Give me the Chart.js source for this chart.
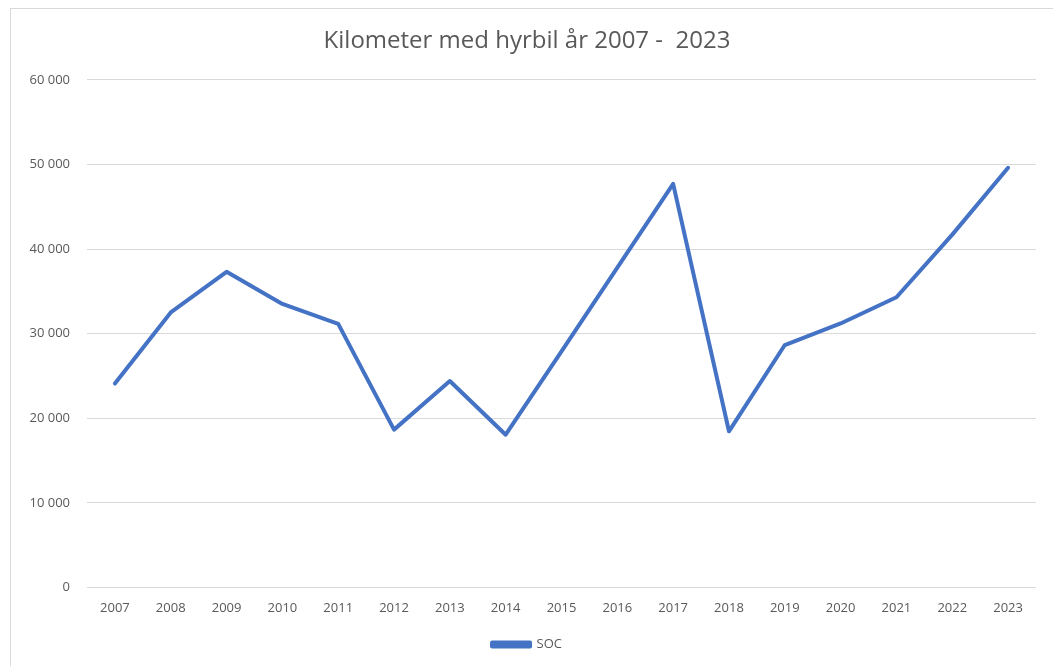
<!DOCTYPE html>
<html>
<head>
<meta charset="utf-8">
<script src="https://cdn.jsdelivr.net/npm/chart.js@4.4.1/dist/chart.umd.min.js"></script>
<style>
  html, body { margin: 0; padding: 0; background: #fff; overflow: hidden; }
  #frame { position: absolute; left: 10px; top: 8px; width: 1060px; height: 680px; border: 1px solid #d9d9d9; }
  #wrap { position: absolute; left: 0; top: 0; width: 1053px; height: 666px; }
</style>
</head>
<body>
<div id="frame"></div>
<div id="wrap"><canvas id="myLineChart"></canvas></div>
<script>
// Årstall (kategorier)
const years = ['2007', '2008', '2009', '2010', '2011', '2012', '2013', '2014', '2015',
  '2016', '2017', '2018', '2019', '2020', '2021', '2022', '2023'];

// Kilometer per år, lest av figuren
const socKm = [24100, 32500, 37300, 33500, 31150, 18650, 24400, 18050, 27900,
  37800, 47700, 18450, 28650, 31200, 34300, 41700, 49600];

const chartTitle = 'Kilometer med hyrbil år 2007 -  2023';
const seriesName = 'SOC';

const grey = '#595959';
const fontFamily = "'Open Sans', sans-serif";

// tusenskille med mellomrom: 60 000
const fmt = (v) => String(v).replace(/\B(?=(\d{3})+(?!\d))/g, ' ');

const ctxLineChart = document.getElementById('myLineChart').getContext('2d');

const lineChart = new Chart(ctxLineChart, {
  type: 'line',
  data: {
    labels: years,
    datasets: [
      {
        label: seriesName,
        data: socKm,
        borderColor: '#4472C4',
        backgroundColor: '#4472C4',
        borderWidth: 4,
        borderJoinStyle: 'round',
        borderCapStyle: 'round',
        pointRadius: 0,
        tension: 0,
        fill: false
      }
    ]
  },
  options: {
    responsive: true,
    maintainAspectRatio: false,
    animation: false,
    layout: {
      padding: { left: 18, right: 17, top: 10, bottom: 5 }
    },
    plugins: {
      title: {
        display: true,
        text: chartTitle,
        color: grey,
        font: { family: fontFamily, size: 24, weight: 'normal' },
        padding: { top: 17, bottom: 24 }
      },
      legend: {
        position: 'bottom',
        labels: {
          color: grey,
          font: { family: fontFamily, size: 13 },
          boxWidth: 38,
          boxHeight: 4,
          padding: 9
        }
      },
      tooltip: { enabled: false }
    },
    scales: {
      x: {
        offset: true,
        grid: { display: false, drawTicks: false },
        border: { display: false },
        ticks: {
          color: grey,
          font: { family: fontFamily, size: 13 },
          padding: 13,
          maxRotation: 0
        }
      },
      y: {
        min: 0,
        max: 60000,
        grid: { color: '#d9d9d9', drawTicks: false },
        border: { display: false },
        ticks: {
          stepSize: 10000,
          color: grey,
          font: { family: fontFamily, size: 13 },
          padding: 17,
          callback: (v) => fmt(v)
        },
        afterFit: (scale) => { scale.width = 69; }
      }
    }
  }
});
</script>
</body>
</html>
